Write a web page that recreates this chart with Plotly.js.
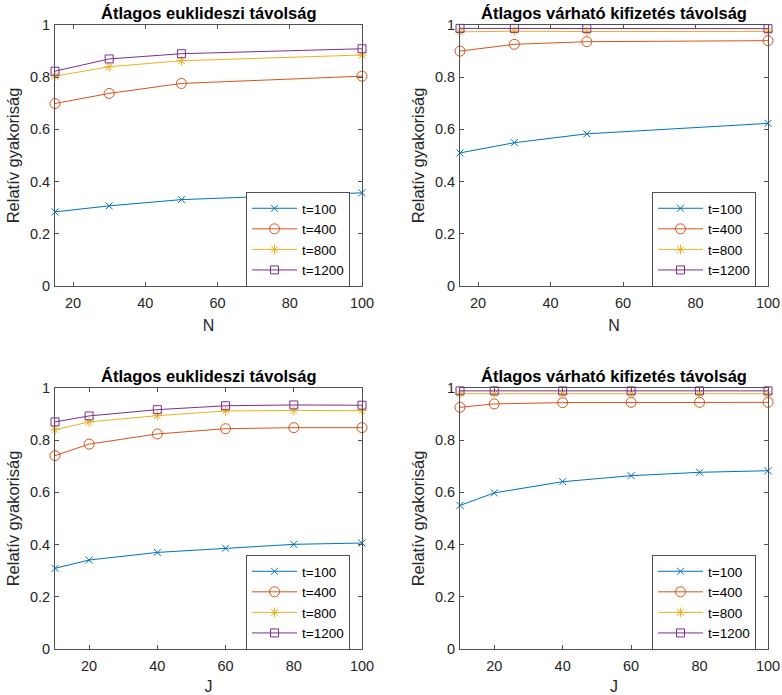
<!DOCTYPE html>
<html>
<head>
<meta charset="utf-8">
<script src="https://cdn.plot.ly/plotly-3.0.1.min.js"></script>
<style>html,body{margin:0;padding:0;background:#fff;}#chart{width:782px;height:695px;}</style>
</head>
<body>
<div id="chart"></div>
<script>
// ---- data ----
const seriesNames = ["t=100", "t=400", "t=800", "t=1200"];
const N = [15, 30, 50, 100];
const J = [10, 20, 40, 60, 80, 100];

// top-left: Átlagos euklideszi távolság vs N
const eukN_t100  = [0.284, 0.307, 0.331, 0.357];
const eukN_t400  = [0.699, 0.738, 0.776, 0.804];
const eukN_t800  = [0.804, 0.840, 0.863, 0.885];
const eukN_t1200 = [0.823, 0.870, 0.890, 0.909];

// top-right: Átlagos várható kifizetés távolság vs N
const kifN_t100  = [0.510, 0.549, 0.583, 0.623];
const kifN_t400  = [0.900, 0.926, 0.936, 0.940];
const kifN_t800  = [0.974, 0.976, 0.975, 0.975];
const kifN_t1200 = [0.987, 0.987, 0.986, 0.986];

// bottom-left: Átlagos euklideszi távolság vs J
const eukJ_t100  = [0.309, 0.341, 0.370, 0.386, 0.401, 0.406];
const eukJ_t400  = [0.741, 0.785, 0.824, 0.844, 0.848, 0.848];
const eukJ_t800  = [0.840, 0.870, 0.894, 0.912, 0.914, 0.913];
const eukJ_t1200 = [0.870, 0.893, 0.917, 0.932, 0.935, 0.934];

// bottom-right: Átlagos várható kifizetés távolság vs J
const kifJ_t100  = [0.550, 0.598, 0.641, 0.664, 0.677, 0.683];
const kifJ_t400  = [0.926, 0.939, 0.944, 0.945, 0.945, 0.945];
const kifJ_t800  = [0.978, 0.978, 0.978, 0.978, 0.978, 0.978];
const kifJ_t1200 = [0.989, 0.989, 0.989, 0.989, 0.989, 0.989];

const titles = ["Átlagos euklideszi távolság", "Átlagos várható kifizetés távolság",
                "Átlagos euklideszi távolság", "Átlagos várható kifizetés távolság"];
const xTitles = ["N", "N", "J", "J"];
const yTitle = "Relatív gyakoriság";
const yTickVals = [0, 0.2, 0.4, 0.6, 0.8, 1];
const yTickText = ["0", "0.2", "0.4", "0.6", "0.8", "1"];
const xTickVals = [20, 40, 60, 80, 100];

// ---- styles ----
const colors = ["#0072BD", "#D95319", "#EDB120", "#7E2F8E"];
const symbols = ["x-thin-open", "circle-open", "asterisk-open", "square-open"];
const sizes = [7, 10, 8, 8];
const axCol = "#262626";
const lineCol = "#505050";
const FONT = "Liberation Sans, Arial, sans-serif";

const panels = [
  {x: N, ys: [eukN_t100, eukN_t400, eukN_t800, eukN_t1200]},
  {x: N, ys: [kifN_t100, kifN_t400, kifN_t800, kifN_t1200]},
  {x: J, ys: [eukJ_t100, eukJ_t400, eukJ_t800, eukJ_t1200]},
  {x: J, ys: [kifJ_t100, kifJ_t400, kifJ_t800, kifJ_t1200]}
];

const W = 782, H = 695;
const px = v => v / W;
const py = v => (H - v) / H;
// plot boxes in pixels [left, right, top, bottom]
const boxes = [
  [55, 362, 25, 286],
  [460, 768, 25, 286],
  [55, 362, 388, 649],
  [460, 768, 388, 649]
];
const xRanges = [[15, 100], [15, 100], [10, 100], [10, 100]];

const traces = [];
const layout = {
  width: W, height: H,
  margin: {l: 0, r: 0, t: 0, b: 0},
  paper_bgcolor: "#ffffff",
  plot_bgcolor: "#ffffff",
  font: {family: FONT, size: 14, color: axCol},
  showlegend: true,
  annotations: []
};

panels.forEach((p, i) => {
  const k = i + 1;
  const xa = k === 1 ? "x" : "x" + k;
  const ya = k === 1 ? "y" : "y" + k;
  const lg = k === 1 ? "legend" : "legend" + k;
  p.ys.forEach((y, s) => {
    traces.push({
      type: "scatter", mode: "lines+markers",
      x: p.x, y: y, name: seriesNames[s],
      xaxis: xa, yaxis: ya, legend: lg,
      line: {color: colors[s], width: 1},
      marker: {symbol: symbols[s], size: sizes[s], color: colors[s], line: {color: colors[s], width: 1}},
      cliponaxis: false
    });
  });
  const b = boxes[i];
  const axBase = {
    showline: true, mirror: "ticks", linecolor: lineCol, linewidth: 1,
    ticks: "inside", ticklen: 4, tickcolor: lineCol, tickwidth: 1,
    showgrid: false, zeroline: false, automargin: false,
    tickfont: {family: FONT, size: 14.5, color: axCol}, fixedrange: true
  };
  layout["xaxis" + (k === 1 ? "" : k)] = Object.assign({}, axBase, {
    domain: [px(b[0]), px(b[1])], anchor: ya, range: xRanges[i],
    tickmode: "array", tickvals: xTickVals, ticklabelstandoff: 4,
    title: {text: xTitles[i], font: {family: FONT, size: 16, color: axCol}, standoff: 9}
  });
  layout["yaxis" + (k === 1 ? "" : k)] = Object.assign({}, axBase, {
    domain: [py(b[3]), py(b[2])], anchor: xa, range: [0, 1],
    tickmode: "array", tickvals: yTickVals, ticktext: yTickText, ticklabelstandoff: 1,
    title: {text: yTitle, font: {family: FONT, size: 16.5, color: axCol}, standoff: 6}
  });
  layout[lg] = {
    x: px(b[1] - 116), y: py(b[3] - 94), xanchor: "left", yanchor: "top",
    xref: "paper", yref: "paper",
    bgcolor: "#ffffff", bordercolor: lineCol, borderwidth: 1,
    font: {family: FONT, size: 13.5, color: "#000000"},
    itemwidth: 45, tracegroupgap: 0
  };
  layout.annotations.push({
    text: "<b>" + titles[i] + "</b>", showarrow: false,
    xref: "paper", yref: "paper",
    x: px((b[0] + b[1]) / 2), y: py(b[2] - 12), xanchor: "center", yanchor: "middle",
    font: {family: FONT, size: 16.5, color: "#000000"}
  });
});

Plotly.newPlot("chart", traces, layout, {displayModeBar: false, staticPlot: true});
</script>
</body>
</html>
